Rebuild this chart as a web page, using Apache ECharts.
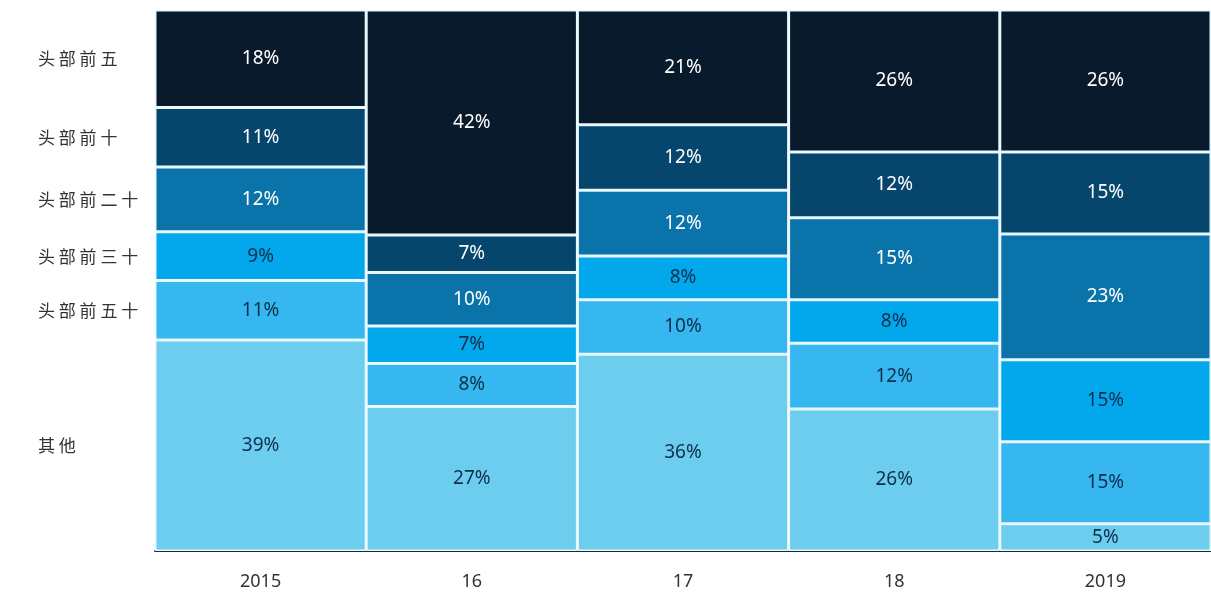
<!DOCTYPE html>
<html lang="zh">
<head>
    <meta charset="UTF-8"/>
    <title>头部份额</title>
    <script src="https://cdn.jsdelivr.net/npm/echarts@6/dist/echarts.min.js"></script>
    <style>
        body {
            margin: 0;
            background-color: #fff;
        }

        #main {
            width: 1211px;
            height: 594px;
        }
    </style>
</head>
<body>
<div id="main"></div>
<script>
    const years = ['2015', '16', '17', '18', '2019'];
    // 自下而上堆叠
    const names = ['其他', '头部前五十', '头部前三十', '头部前二十', '头部前十', '头部前五'];
    const other = [39, 27, 36, 26, 5];
    const top50 = [11, 8, 10, 12, 15];
    const top30 = [9, 7, 8, 8, 15];
    const top20 = [12, 10, 12, 15, 23];
    const top10 = [11, 7, 12, 12, 15];
    const top5 = [18, 42, 21, 26, 26];
    const values = [other, top50, top30, top20, top10, top5];
    const colors = ['#6dcdef', '#36b7ef', '#03a8ec', '#0a73aa', '#07466c', '#081a2b'];
    const labelColors = ['#0d2f4d', '#0d2f4d', '#0d2f4d', '#ffffff', '#ffffff', '#ffffff'];

    // 每年合计归一到 100%
    const totals = years.map((y, i) => values.reduce((s, arr) => s + arr[i], 0));
    const shares = values.map(arr => arr.map((v, i) => v / totals[i] * 100));

    // 左侧名称对齐 2015 柱各段中心
    const centers = [];
    let acc = 0;
    shares.forEach(arr => {
        centers.push(acc + arr[0] / 2);
        acc += arr[0];
    });

    const chart = echarts.init(document.getElementById('main'));
    chart.setOption({
        animation: false,
        grid: {left: 155, right: 0, top: 10, bottom: 43},
        xAxis: {
            type: 'category',
            data: years,
            axisTick: {show: false},
            axisLine: {lineStyle: {color: '#1b2b38', width: 2}},
            axisLabel: {color: '#333', fontSize: 18, margin: 22, fontFamily: 'Noto Sans'}
        },
        yAxis: {
            type: 'value',
            min: 0,
            max: 100,
            splitLine: {show: false},
            axisLine: {show: false},
            axisTick: {show: false},
            axisLabel: {
                customValues: centers,
                align: 'left',
                margin: 117,
                color: '#333',
                fontSize: 17,
                fontFamily: 'Noto Sans CJK SC',
                formatter: function (v) {
                    const idx = centers.findIndex(c => Math.abs(c - v) < 1e-6);
                    return idx >= 0 ? names[idx].split('').join(' ') : '';
                }
            }
        },
        series: names.map((name, k) => ({
            name: name,
            type: 'bar',
            stack: 'total',
            barCategoryGap: 0,
            data: shares[k],
            itemStyle: {color: colors[k], borderColor: '#e8f8ff', borderWidth: 1.5},
            label: {
                show: true,
                position: 'inside',
                color: labelColors[k],
                fontSize: 19,
                fontFamily: 'Noto Sans',
                formatter: p => values[k][p.dataIndex] + '%'
            }
        }))
    });
</script>
</body>
</html>
